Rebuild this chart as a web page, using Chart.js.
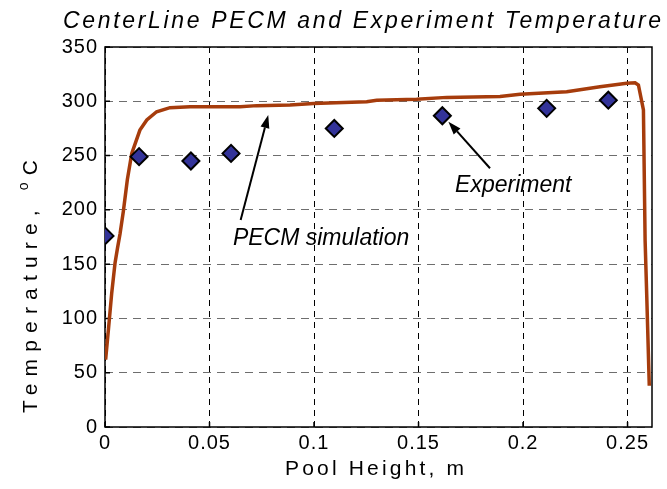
<!DOCTYPE html>
<html>
<head>
<meta charset="utf-8">
<script src="https://cdn.jsdelivr.net/npm/chart.js@4.4.0/dist/chart.umd.min.js"></script>
<style>
  html, body { margin: 0; padding: 0; background: #fff; }
</style>
</head>
<body>
<canvas id="chart" width="667" height="489"></canvas>
<script>
// PECM simulation along the centerline (pool height in m, temperature in C)
const simHeight = [0.0003, 0.0016, 0.0032, 0.0048, 0.0060, 0.0072, 0.0088, 0.0107, 0.0128, 0.0167,
                   0.0200, 0.0247, 0.0311, 0.0407, 0.0500, 0.0646, 0.0726, 0.0885, 0.0997, 0.1252,
                   0.1300, 0.1491, 0.1635, 0.1890, 0.1986, 0.2209, 0.2368, 0.2496, 0.2536, 0.2552,
                   0.2576, 0.2584, 0.2592, 0.2604];
const simTemp = [62, 89, 123, 151, 165, 178, 199, 228, 252, 273.5,
                 282.8, 290.4, 294.1, 295, 295, 295, 296, 296.6, 298, 299.6,
                 301, 301.8, 303.6, 304.5, 306.5, 308.8, 313.4, 316.6, 317.1, 315,
                 292, 172, 120, 38];

// Experiment measurements
const expHeight = [0, 0.0163, 0.0411, 0.0603, 0.1097, 0.1614, 0.2113, 0.2408];
const expTemp = [176, 249, 245, 252, 275, 286.7, 293.5, 301];

const xTicks = [0, 0.05, 0.1, 0.15, 0.2, 0.25];
const yTicks = [0, 50, 100, 150, 200, 250, 300, 350];
const xMax = 0.2617;
const yMax = 350;

// callouts: label anchor and arrow, in data units
const notes = [
  { text: 'PECM simulation', x: 0.0612, y: 167.6, from: [0.0649, 190.7], to: [0.0781, 287.4] },
  { text: 'Experiment', x: 0.1675, y: 216.7, from: [0.1842, 238.3], to: [0.1643, 281.2] }
];

function spacedText(ctx, text, x, y, width, font) {
  ctx.font = font;
  ctx.letterSpacing = '0px';
  const w = ctx.measureText(text).width;
  ctx.letterSpacing = ((width - w) / Math.max(text.length - 1, 1)) + 'px';
  ctx.fillText(text, x, y);
}

function arrow(ctx, x1, y1, x2, y2) {
  const ang = Math.atan2(y2 - y1, x2 - x1);
  const len = 13, half = 4.5;
  const bx = x2 - len * Math.cos(ang), by = y2 - len * Math.sin(ang);
  ctx.beginPath();
  ctx.moveTo(x1, y1);
  ctx.lineTo(bx, by);
  ctx.stroke();
  ctx.beginPath();
  ctx.moveTo(x2, y2);
  ctx.lineTo(bx + half * Math.sin(ang), by - half * Math.cos(ang));
  ctx.lineTo(bx - half * Math.sin(ang), by + half * Math.cos(ang));
  ctx.closePath();
  ctx.fill();
}

const decor = {
  id: 'decor',
  beforeDraw(chart) {
    chart.ctx.letterSpacing = '1px';
  },
  beforeDatasetsDraw(chart) {
    const { ctx, chartArea: a, scales: { x, y } } = chart;
    ctx.save();
    ctx.strokeStyle = '#000';
    ctx.lineWidth = 1.5;
    ctx.strokeRect(a.left, a.top, a.right - a.left, a.bottom - a.top);
    ctx.beginPath();
    xTicks.forEach(v => {
      const px = x.getPixelForValue(v);
      ctx.moveTo(px, a.bottom);
      ctx.lineTo(px, a.bottom - 5);
    });
    yTicks.forEach(v => {
      const py = y.getPixelForValue(v);
      ctx.moveTo(a.left, py);
      ctx.lineTo(a.left + 5, py);
    });
    ctx.stroke();
    ctx.restore();
  },
  afterDatasetsDraw(chart) {
    const { ctx, scales: { x, y } } = chart;
    ctx.save();
    ctx.fillStyle = '#000';
    ctx.strokeStyle = '#000';
    ctx.lineWidth = 2;
    ctx.letterSpacing = '0px';
    ctx.textAlign = 'left';
    ctx.textBaseline = 'alphabetic';
    ctx.font = 'italic 23px Arial';
    notes.forEach(n => {
      ctx.fillText(n.text, x.getPixelForValue(n.x), y.getPixelForValue(n.y));
      arrow(ctx, x.getPixelForValue(n.from[0]), y.getPixelForValue(n.from[1]),
                 x.getPixelForValue(n.to[0]), y.getPixelForValue(n.to[1]));
    });
    ctx.restore();
  },
  afterDraw(chart) {
    const ctx = chart.ctx;
    ctx.save();
    ctx.fillStyle = '#000';
    ctx.textAlign = 'left';
    ctx.textBaseline = 'alphabetic';
    // title
    spacedText(ctx, 'CenterLine PECM and Experiment Temperature', 63, 28, 598, 'italic 23px Arial');
    // x axis title
    spacedText(ctx, 'Pool Height, m', 285, 475, 179, '21px Arial');
    // y axis title with superscript o
    ctx.translate(37, 413);
    ctx.rotate(-Math.PI / 2);
    ctx.letterSpacing = '0px';
    ctx.font = '21px Arial';
    const main = 'Temperature, ';
    const wMain = ctx.measureText(main).width;
    const wC = ctx.measureText('C').width;
    ctx.font = '14px Arial';
    const wo = ctx.measureText('o').width;
    const sp = (253 - wMain - wC - wo) / 14;
    ctx.font = '21px Arial';
    ctx.letterSpacing = sp + 'px';
    ctx.fillText(main, 0, 0);
    let pos = wMain + sp * main.length;
    ctx.font = '14px Arial';
    ctx.fillText('o', pos, -9);
    pos += wo + sp;
    ctx.font = '21px Arial';
    ctx.fillText('C', pos, 0);
    ctx.restore();
  }
};

new Chart(document.getElementById('chart'), {
  type: 'scatter',
  data: {
    datasets: [
      {
        label: 'Experiment',
        data: expHeight.map((h, i) => ({ x: h, y: expTemp[i] })),
        showLine: false,
        pointStyle: 'rectRot',
        pointRadius: 8.5,
        pointBackgroundColor: '#333399',
        pointBorderColor: '#000',
        pointBorderWidth: 2
      },
      {
        label: 'PECM simulation',
        data: simHeight.map((h, i) => ({ x: h, y: simTemp[i] })),
        showLine: true,
        borderColor: '#A63C0C',
        borderWidth: 3.5,
        pointRadius: 0,
        tension: 0
      }
    ]
  },
  options: {
    responsive: false,
    animation: false,
    layout: { padding: { top: 47, right: 15, bottom: 0, left: 0 } },
    plugins: {
      legend: { display: false },
      title: { display: false },
      tooltip: { enabled: false }
    },
    scales: {
      x: {
        type: 'linear',
        min: 0,
        max: xMax,
        afterBuildTicks: s => { s.ticks = xTicks.map(v => ({ value: v })); },
        afterFit: s => { s.height = 62; },
        ticks: {
          color: '#000',
          font: { family: 'Arial', size: 20 },
          padding: 4,
          maxRotation: 0,
          autoSkip: false,
          callback: v => String(v)
        },
        grid: { color: '#000', lineWidth: 1, drawTicks: false },
        border: { display: false, dash: [6, 5] }
      },
      y: {
        type: 'linear',
        min: 0,
        max: yMax,
        afterBuildTicks: s => { s.ticks = yTicks.map(v => ({ value: v })); },
        afterFit: s => { s.width = 105; },
        ticks: {
          color: '#000',
          font: { family: 'Arial', size: 20 },
          padding: 7,
          autoSkip: false,
          callback: v => String(v)
        },
        grid: { color: '#6e6e6e', lineWidth: 1, drawTicks: false },
        border: { display: false, dash: [8, 6] }
      }
    }
  },
  plugins: [decor]
});
</script>
</body>
</html>
